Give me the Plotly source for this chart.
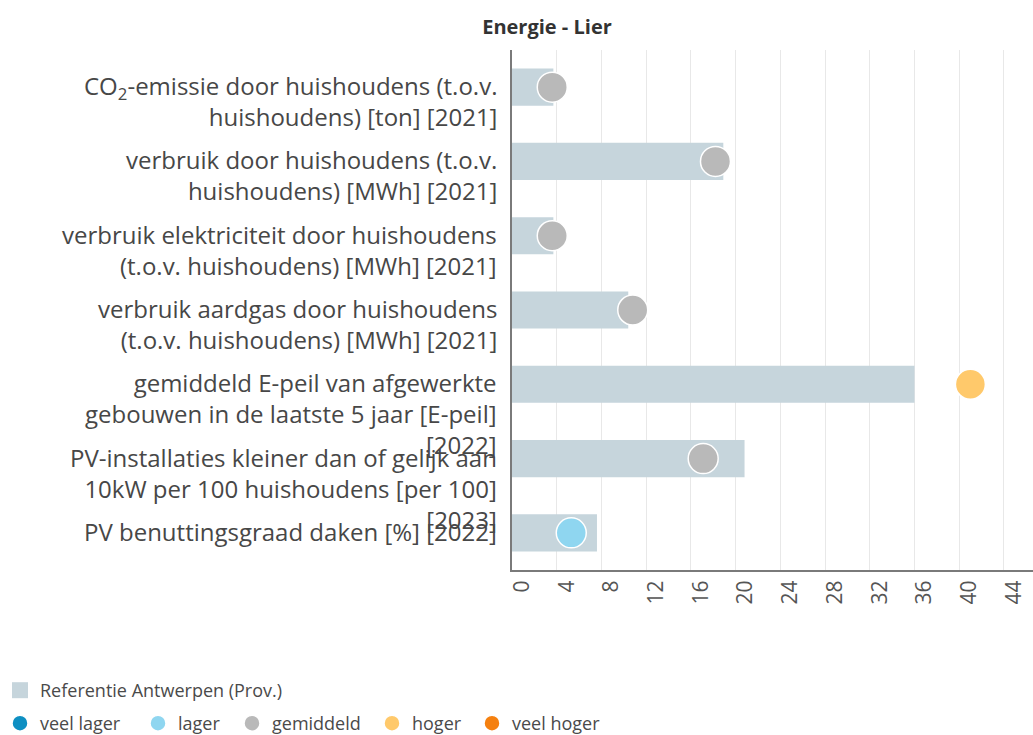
import plotly.graph_objects as go

# data
labels = [
    "CO<sub>2</sub>-emissie door huishoudens (t.o.v.<br>huishoudens) [ton] [2021]",
    "verbruik door huishoudens (t.o.v.<br>huishoudens) [MWh] [2021]",
    "verbruik elektriciteit door huishoudens<br>(t.o.v. huishoudens) [MWh] [2021]",
    "verbruik aardgas door huishoudens<br>(t.o.v. huishoudens) [MWh] [2021]",
    "gemiddeld E-peil van afgewerkte<br>gebouwen in de laatste 5 jaar [E-peil]<br>[2022]",
    "PV-installaties kleiner dan of gelijk aan<br>10kW per 100 huishoudens [per 100]<br>[2023]",
    "PV benuttingsgraad daken [%] [2022]",
]
referentie = [3.7, 18.9, 3.7, 10.4, 36.0, 20.8, 7.6]
lier = [3.6, 18.2, 3.6, 10.8, 41.0, 17.1, 5.3]
klasse = ["gemiddeld", "gemiddeld", "gemiddeld", "gemiddeld", "hoger", "gemiddeld", "lager"]

klassen = ["veel lager", "lager", "gemiddeld", "hoger", "veel hoger"]
kleuren = {
    "veel lager": "#0e8fc2",
    "lager": "#8fd6f0",
    "gemiddeld": "#b9b9b9",
    "hoger": "#ffc96b",
    "veel hoger": "#f5800f",
}
bar_kleur = "#c6d5dc"

font_family = "'Open Sans', 'Noto Sans', sans-serif"

# plot area in pixels (left, right, top, bottom)
pl, pr, pt, pb = 512, 1033, 50, 570
ph = pb - pt
pw = pr - pl

# legend item x positions (px) for the class legend row
legend_x_px = [0, 138, 232, 372, 472]

fig = go.Figure()

# reference bars
fig.add_trace(
    go.Bar(
        x=referentie,
        y=labels,
        orientation="h",
        width=0.5,
        marker=dict(color=bar_kleur, line=dict(width=0)),
        name="Referentie Antwerpen (Prov.)",
        showlegend=False,
        hoverinfo="x+name",
    )
)
# legend entry for the bars (bigger square than the default bar symbol)
fig.add_trace(
    go.Scatter(
        x=[None],
        y=[None],
        mode="markers",
        marker=dict(symbol="square", size=18, color=bar_kleur),
        name="Referentie Antwerpen (Prov.)",
        legend="legend",
    )
)

# markers for Lier, one trace per class so the legend shows all classes
for i, k in enumerate(klassen):
    xs = [v for v, c in zip(lier, klasse) if c == k]
    ys = [lab for lab, c in zip(labels, klasse) if c == k]
    if not xs:
        xs, ys = [None], [None]
    fig.add_trace(
        go.Scatter(
            x=xs,
            y=ys,
            mode="markers",
            marker=dict(size=30, color=kleuren[k], line=dict(color="white", width=1.5)),
            name=k,
            legend=f"legend{i + 2}",
            cliponaxis=False,
        )
    )

# y labels as annotations, first line aligned with the bar
for lab in labels:
    fig.add_annotation(
        x=0,
        xref="paper",
        y=lab,
        yref="y",
        text=lab,
        showarrow=False,
        xanchor="right",
        yanchor="top",
        align="right",
        xshift=-13,
        yshift=20,
        font=dict(family=font_family, size=24, color="#474747"),
    )

legend_font = dict(size=18, color="#4a4a4a")
legends = {
    "legend": dict(
        orientation="h",
        x=-pl / pw,
        y=(pb - 672) / ph,
        xanchor="left",
        yanchor="top",
        font=legend_font,
    )
}
for i, xp in enumerate(legend_x_px):
    legends[f"legend{i + 2}"] = dict(
        orientation="h",
        x=(xp - pl) / pw,
        y=(pb - 705) / ph,
        xanchor="left",
        yanchor="top",
        font=legend_font,
    )

fig.update_layout(
    width=1033,
    height=735,
    margin=dict(l=pl, r=1033 - pr, t=pt, b=735 - pb, autoexpand=False),
    paper_bgcolor="white",
    plot_bgcolor="white",
    font=dict(family=font_family, color="#444444"),
    showlegend=True,
    title=dict(
        text="<b>Energie - Lier</b>",
        xref="container",
        yref="container",
        x=547 / 1033,
        y=1 - 27 / 735,
        xanchor="center",
        yanchor="middle",
        font=dict(family=font_family, size=20, color="#333333"),
    ),
    **legends,
)

fig.update_xaxes(
    range=[0, 46.6],
    dtick=4,
    tick0=0,
    tickangle=-90,
    ticklabelshift=10,
    tickfont=dict(family=font_family, size=21, color="#555555"),
    showgrid=True,
    gridcolor="#e8e8e8",
    gridwidth=1,
    showline=True,
    linecolor="#7a7a7a",
    linewidth=2,
    zeroline=False,
    ticks="",
)
fig.update_yaxes(
    categoryorder="array",
    categoryarray=labels[::-1],
    range=[-0.5, len(labels) - 0.5],
    showticklabels=False,
    showgrid=False,
    showline=True,
    linecolor="#7a7a7a",
    linewidth=2,
    zeroline=False,
)

fig.write_html(
    "out.html",
    config={"displayModeBar": False},
    post_script="document.body.style.margin='0px';",
)
